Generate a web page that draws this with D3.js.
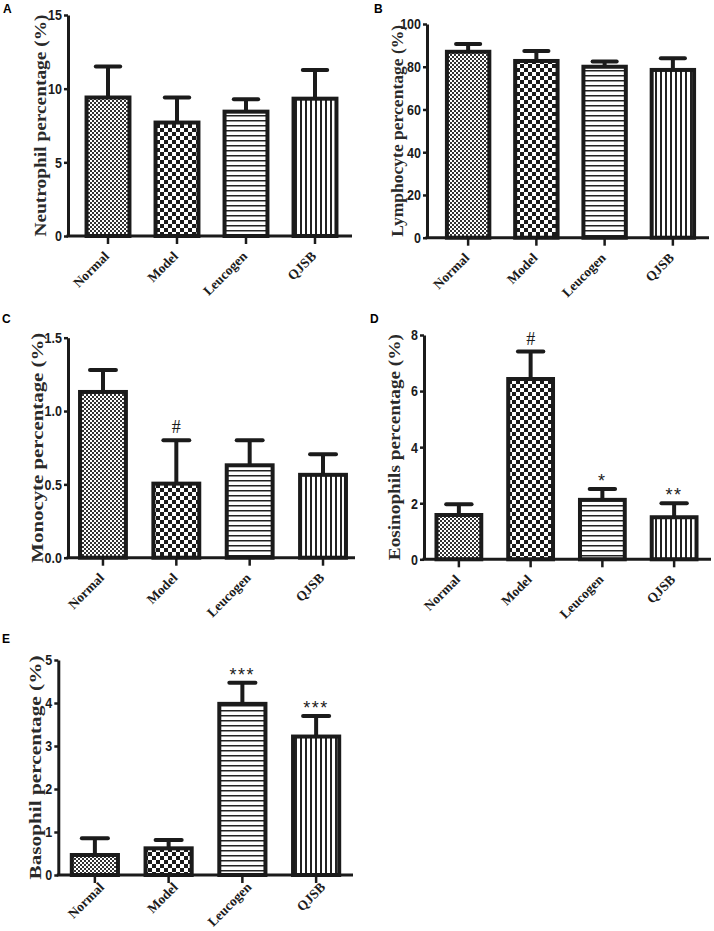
<!DOCTYPE html>
<html><head><meta charset="utf-8">
<script src="https://cdn.jsdelivr.net/npm/d3@7"></script>
<style>body{margin:0;background:#fff}</style>
</head><body>
<svg id="c" width="714" height="931" style="background:#fff"></svg>
<script>
// ---------- data ----------
const groups = ["Normal", "Model", "Leucogen", "QJSB"];

const neutrophilMean = [9.4, 7.7, 8.44, 9.32];
const neutrophilErr  = [2.1, 1.7, 0.85, 1.95];
const neutrophilTicks = [0, 5, 10, 15];

const lymphocyteMean = [87.0, 82.7, 80.0, 78.5];
const lymphocyteErr  = [3.6, 4.7, 2.4, 5.5];
const lymphocyteTicks = [0, 20, 40, 60, 80, 100];

const monocyteMean = [1.13, 0.505, 0.63, 0.565];
const monocyteErr  = [0.15, 0.295, 0.17, 0.14];
const monocyteTicks = [0, 0.5, 1.0, 1.5];
const monocyteMarks = ["", "#", "", ""];

const eosinophilMean = [1.58, 6.43, 2.12, 1.50];
const eosinophilErr  = [0.38, 0.98, 0.39, 0.50];
const eosinophilTicks = [0, 2, 4, 6, 8];
const eosinophilMarks = ["", "#", "*", "**"];

const basophilMean = [0.465, 0.62, 3.98, 3.22];
const basophilErr  = [0.39, 0.195, 0.49, 0.48];
const basophilTicks = [0, 1, 2, 3, 4, 5];
const basophilMarks = ["", "", "***", "***"];

// ---------- drawing ----------
const INK = "#1b1b1b";
const svg = d3.select("#c");
const defs = svg.append("defs");
function pat(id, w, h, draw) {
  const p = defs.append("pattern").attr("id", id)
    .attr("patternUnits", "userSpaceOnUse").attr("width", w).attr("height", h);
  p.append("rect").attr("width", w).attr("height", h).attr("fill", "#fff");
  draw(p);
}
pat("pN", 4, 4, p => {
  p.append("rect").attr("width", 2).attr("height", 2).attr("fill", "#333");
  p.append("rect").attr("x", 2).attr("y", 2).attr("width", 2).attr("height", 2).attr("fill", "#333");
});
pat("pM", 8, 8, p => {
  p.append("rect").attr("width", 4).attr("height", 4).attr("fill", INK);
  p.append("rect").attr("x", 4).attr("y", 4).attr("width", 4).attr("height", 4).attr("fill", INK);
});
pat("pL", 5, 5, p => {
  p.append("rect").attr("width", 5).attr("height", 1.5).attr("fill", "#222");
});
pat("pQ", 5, 5, p => {
  p.append("rect").attr("width", 2).attr("height", 5).attr("fill", "#222");
});
const fills = ["url(#pN)", "url(#pM)", "url(#pL)", "url(#pQ)"];

function panel(cfg) {
  const g = svg.append("g");
  const x = d3.scaleBand().domain(groups).range(cfg.band).paddingInner(0.32).paddingOuter(0.16);
  const yMax = cfg.ticks[cfg.ticks.length - 1];
  const y = d3.scaleLinear().domain([0, yMax]).range([cfg.bottom, cfg.top]);
  const bw = x.bandwidth();
  const rows = groups.map((k, i) => ({ k, m: cfg.mean[i], e: cfg.err[i], f: fills[i], a: cfg.marks ? cfg.marks[i] : "" }));

  // error bars
  const eb = g.selectAll("g.eb").data(rows).join("g");
  eb.append("line")
    .attr("x1", d => x(d.k) + bw / 2).attr("x2", d => x(d.k) + bw / 2)
    .attr("y1", d => y(d.m)).attr("y2", d => y(d.m + d.e))
    .attr("stroke", INK).attr("stroke-width", 4);
  eb.append("line")
    .attr("x1", d => x(d.k) + bw / 2 - bw * 0.26).attr("x2", d => x(d.k) + bw / 2 + bw * 0.26)
    .attr("y1", d => y(d.m + d.e)).attr("y2", d => y(d.m + d.e))
    .attr("stroke", INK).attr("stroke-width", 4).attr("stroke-linecap", "round");

  // bars
  g.selectAll("rect.bar").data(rows).join("rect")
    .attr("x", d => x(d.k) + 2).attr("width", bw - 4)
    .attr("y", d => y(d.m)).attr("height", d => y(0) - y(d.m))
    .attr("fill", d => d.f).attr("stroke", INK).attr("stroke-width", 4);

  // significance marks
  g.selectAll("text.mk").data(rows.filter(d => d.a)).join("text")
    .attr("x", d => x(d.k) + bw / 2)
    .attr("y", d => y(d.m + d.e) - (d.a === "#" ? 7 : 2))
    .attr("text-anchor", "middle")
    .attr("font-family", d => d.a === "#" ? "Liberation Serif, serif" : "Liberation Sans, Arial, sans-serif")
    .attr("font-size", 18)
    .attr("letter-spacing", d => d.a === "#" ? 0 : 1.5)
    .attr("fill", INK)
    .text(d => d.a);

  // y axis
  const ya = g.append("g").attr("transform", `translate(${cfg.x},0)`)
    .call(d3.axisLeft(y).tickValues(cfg.ticks).tickSize(4).tickSizeOuter(0).tickPadding(2)
      .tickFormat(cfg.fmt ? d3.format(cfg.fmt) : d3.format("d")));
  ya.select(".domain").attr("stroke", INK).attr("stroke-width", 3);
  ya.selectAll(".tick line").attr("stroke", INK).attr("stroke-width", 2.5);
  ya.selectAll(".tick text").attr("fill", INK)
    .attr("font-family", "Liberation Sans, Arial, sans-serif").attr("font-weight", "bold").attr("font-size", 12.5)
    .attr("transform", "scale(1,1.22)");

  // x axis
  g.append("line").attr("x1", cfg.x - 1.5).attr("x2", cfg.end)
    .attr("y1", cfg.bottom).attr("y2", cfg.bottom).attr("stroke", INK).attr("stroke-width", 3);
  const xa = g.append("g").attr("transform", `translate(0,${cfg.bottom})`)
    .call(d3.axisBottom(x).tickSize(8).tickSizeOuter(0));
  xa.select(".domain").remove();
  xa.selectAll(".tick line").attr("stroke", INK).attr("stroke-width", 2.5);
  xa.selectAll(".tick text").remove();
  const lo = cfg.labelOff || [2, 21];
  g.selectAll("text.xl").data(groups).join("text")
    .attr("transform", d => `translate(${x(d) + bw / 2 + lo[0]},${cfg.bottom + lo[1]}) rotate(-45)`)
    .attr("text-anchor", "end")
    .attr("font-family", "Liberation Serif, 'Times New Roman', serif").attr("font-weight", "bold")
    .attr("font-size", 13.5).attr("fill", INK)
    .text(d => d);

  // y title
  g.append("text")
    .attr("transform", `translate(${cfg.titleX},${(cfg.top + cfg.bottom) / 2}) rotate(-90)`)
    .attr("text-anchor", "middle").attr("dominant-baseline", "central")
    .attr("font-family", "Liberation Serif, 'Times New Roman', serif").attr("font-weight", "bold")
    .attr("font-size", 16.5).attr("fill", "#2a2a2a")
    .attr("textLength", cfg.titleLen).attr("lengthAdjust", "spacingAndGlyphs")
    .text(cfg.title);

  // panel letter
  g.append("text").attr("x", cfg.letter[0]).attr("y", cfg.letter[1])
    .attr("font-family", "Liberation Sans, Arial, sans-serif").attr("font-weight", "bold")
    .attr("font-size", 12).attr("fill", "#000").text(cfg.id);
}

panel({ id: "A", letter: [3, 13], x: 68, top: 15, bottom: 236, band: [73.5, 349.5], end: 352,
  ticks: neutrophilTicks, mean: neutrophilMean, err: neutrophilErr,
  title: "Neutrophil percentage (%)", titleX: 40, titleLen: 222 });
panel({ id: "B", letter: [374, 13], x: 427, top: 24, bottom: 237.7, band: [434, 707], end: 709,
  ticks: lymphocyteTicks, mean: lymphocyteMean, err: lymphocyteErr,
  title: "Lymphocyte percentage (%)", titleX: 397, titleLen: 212 });
panel({ id: "C", letter: [2, 323], x: 68, top: 337.7, bottom: 557.7, band: [66.3, 359.7], end: 355,
  ticks: monocyteTicks, fmt: ".1f", mean: monocyteMean, err: monocyteErr, marks: monocyteMarks,
  title: "Monocyte percentage (%)", titleX: 37.5, titleLen: 230 });
panel({ id: "D", letter: [370, 323], x: 424, top: 335, bottom: 559.3, band: [423, 710], end: 711,
  ticks: eosinophilTicks, mean: eosinophilMean, err: eosinophilErr, marks: eosinophilMarks,
  title: "Eosinophils percentage (%)", titleX: 394.5, titleLen: 226 });
panel({ id: "E", letter: [2, 643], x: 58.3, top: 660, bottom: 875, band: [58, 353], end: 353,
  ticks: basophilTicks, mean: basophilMean, err: basophilErr, marks: basophilMarks,
  title: "Basophil percentage (%)", titleX: 35.5, titleLen: 224, labelOff: [10, 13] });
</script>
</body></html>
